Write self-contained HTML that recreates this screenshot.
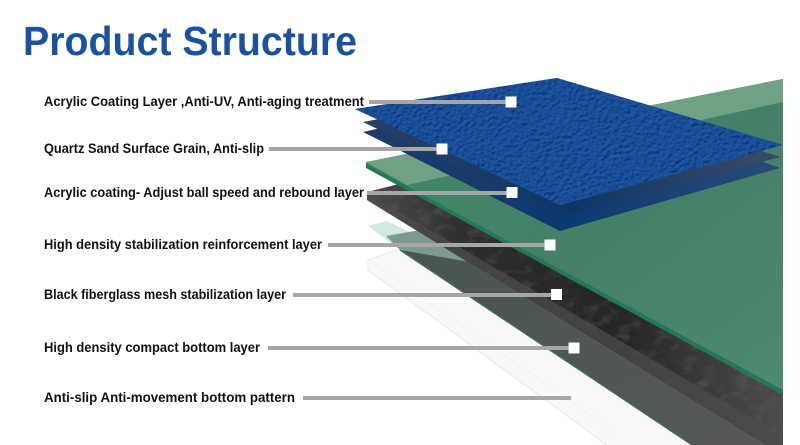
<!DOCTYPE html>
<html><head><meta charset="utf-8"><style>html,body{margin:0;padding:0;background:#fff;width:800px;height:445px;overflow:hidden}svg{display:block}</style></head>
<body>
<svg xmlns="http://www.w3.org/2000/svg" width="800" height="445" viewBox="0 0 800 445">
<defs>
<filter id="grain" x="0" y="0" width="100%" height="100%">
<feTurbulence type="fractalNoise" baseFrequency="0.24 0.32" numOctaves="2" seed="4" result="n"/>
<feDiffuseLighting in="n" surfaceScale="2" diffuseConstant="1.05" lighting-color="#1f56a8" result="l"><feDistantLight azimuth="235" elevation="55"/></feDiffuseLighting>
<feGaussianBlur in="l" stdDeviation="0.4" result="b"/>
<feComposite in="b" in2="SourceAlpha" operator="in"/>
</filter>
<filter id="mott" x="0" y="0" width="100%" height="100%">
<feTurbulence type="fractalNoise" baseFrequency="0.06 0.1" numOctaves="4" seed="9"/>
<feColorMatrix values="0 0 0 0 .12  0 0 0 0 .12  0 0 0 0 .12  3 0 0 0 -1.45"/>
<feComposite in2="SourceAlpha" operator="in"/>
</filter>
<linearGradient id="g1" x1="0" y1="0" x2="1" y2="1"><stop offset="0" stop-color="#3f8a66"/><stop offset=".55" stop-color="#447f66"/><stop offset="1" stop-color="#4f8b70"/></linearGradient>
<linearGradient id="gr" x1="0" y1="0" x2="1" y2="1"><stop offset="0" stop-color="#48564f"/><stop offset="1" stop-color="#565855"/></linearGradient>
<linearGradient id="bk" x1="0" y1="0" x2="1" y2="0"><stop offset="0" stop-color="#4a4a4a"/><stop offset=".25" stop-color="#2c2d2d"/><stop offset=".6" stop-color="#242525"/><stop offset="1" stop-color="#4c4c4c"/></linearGradient>
<linearGradient id="bl1" x1="0" y1="0" x2="1" y2="0"><stop offset="0" stop-color="#2a3f63"/><stop offset=".5" stop-color="#0e3768"/><stop offset="1" stop-color="#3a4a66"/></linearGradient>
<linearGradient id="bl2" x1="0" y1="0" x2="1" y2="0"><stop offset="0" stop-color="#1f3c68"/><stop offset=".5" stop-color="#0c3a72"/><stop offset="1" stop-color="#2a4a78"/></linearGradient>
</defs>

<!-- white bottom pattern -->
<polygon points="368,260 400,249 692,445 607,445 368,270" fill="#f9f9f9"/>
<polyline points="400,249 368,260 368,270 607,445" fill="none" stroke="#e8e8e8" stroke-width="1"/>
<line x1="368" y1="260" x2="615" y2="432" stroke="#f2f2f2" stroke-width="1"/>

<!-- pale teal + grey layer -->
<polygon points="368,226 386,221 440,245 400,250" fill="#cfe9e5"/>
<polygon points="400,250 432,240 765,445 692,445" fill="url(#gr)"/>
<polygon points="386,236 432,228 470,262 400,250" fill="#7d9a90"/>
<line x1="400" y1="250" x2="692" y2="445" stroke="#3f6a50" stroke-width="1.3"/>

<!-- black layer -->
<polygon points="367,192 407,182 783,390 783,445 765,445 367,200" fill="url(#bk)"/>
<polygon points="367,192 407,182 783,390 783,445 765,445 367,200" filter="url(#mott)" opacity=".4"/>
<polygon points="367,200 765,445 783,445 783,436 372,196" fill="#4b4b4b" opacity=".75"/>

<!-- green layer -->
<polygon points="366,164 783,79 783,395 366,168" fill="#1f7a55"/>
<polygon points="366,162 783,79 783,390 366,164" fill="url(#g1)"/>
<polygon points="366,162 783,79 783,102 407,185" fill="#6fa285"/>

<!-- blue layers -->
<polygon points="363,132 560,88 780,168 560,231" fill="url(#bl2)"/>
<polygon points="363,122 560,84 780,157 560,217" fill="url(#bl1)"/>
<polygon points="355,109 557,78 783,145 560,205" fill="#1a55ad"/>
<polygon points="355,109 557,78 783,145 560,205" filter="url(#grain)"/>

<!-- leaders -->
<g fill="#a6a6a6">
<rect x="369" y="100" width="142" height="4"/>
<rect x="269" y="147" width="173" height="4"/>
<rect x="367" y="191" width="145" height="4"/>
<rect x="328" y="243" width="222" height="4"/>
<rect x="293" y="293" width="264" height="4"/>
<rect x="268" y="346" width="306" height="4"/>
<rect x="303" y="396" width="268" height="4"/>
</g>
<g fill="#fff">
<rect x="505.500" y="96.500" width="11" height="11"/>
<rect x="436.500" y="143.500" width="11" height="11"/>
<rect x="506.500" y="187" width="11" height="11"/>
<rect x="544.500" y="239.500" width="11" height="11"/>
<rect x="551" y="289" width="11" height="11"/>
<rect x="568.500" y="342.500" width="11" height="11"/>
</g>

<!-- text -->
<text x="23" y="55" font-family="'Liberation Sans',sans-serif" font-weight="700" font-size="41" fill="#1a529f" textLength="334" lengthAdjust="spacingAndGlyphs">Product Structure</text>
<g font-family="'Liberation Sans',sans-serif" font-weight="700" font-size="13.500" fill="#111">
<text x="44" y="106" textLength="320" lengthAdjust="spacingAndGlyphs">Acrylic Coating Layer ,Anti-UV, Anti-aging treatment</text>
<text x="44" y="153" textLength="220" lengthAdjust="spacingAndGlyphs">Quartz Sand Surface Grain, Anti-slip</text>
<text x="44" y="197" textLength="320" lengthAdjust="spacingAndGlyphs">Acrylic coating- Adjust ball speed and rebound layer</text>
<text x="44" y="249" textLength="278" lengthAdjust="spacingAndGlyphs">High density stabilization reinforcement layer</text>
<text x="44" y="299" textLength="242" lengthAdjust="spacingAndGlyphs">Black fiberglass mesh stabilization layer</text>
<text x="44" y="352" textLength="216" lengthAdjust="spacingAndGlyphs">High density compact bottom layer</text>
<text x="44" y="402" textLength="251" lengthAdjust="spacingAndGlyphs">Anti-slip Anti-movement bottom pattern</text>
</g>
</svg>
</body></html>
